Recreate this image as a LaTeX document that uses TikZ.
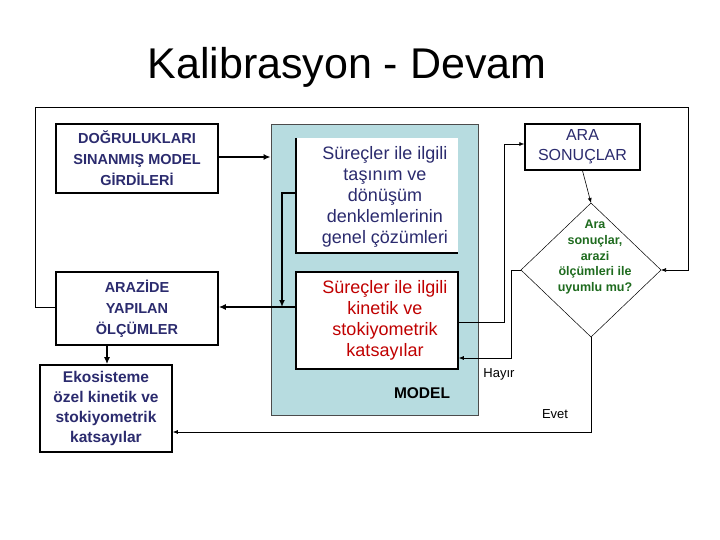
\documentclass[tikz,border=0pt]{standalone}
\usepackage{fontspec}
\setmainfont{Liberation Sans}
\usetikzlibrary{arrows.meta}
\definecolor{navy}{HTML}{2B2B6E}
\definecolor{panel}{HTML}{B7DCE0}
\definecolor{redt}{HTML}{C00000}
\definecolor{greent}{HTML}{1E6B1E}
\begin{document}
\begin{tikzpicture}[x=1pt,y=-1pt,
  box/.style={draw,line width=1.6pt,fill=white,align=center,inner sep=0pt},
  thin/.style={line width=0.6pt,-{Latex[length=5pt,width=4pt]}},
  thick/.style={line width=2.2pt,-{Latex[length=7pt,width=6pt]}},
  lab/.style={font=\fontsize{14.5}{21}\selectfont\bfseries,text=navy,align=center}]
\useasboundingbox (0,0) rectangle (720,540);
\node (title) at (347,67) {\fontsize{43}{48}\selectfont Kalibrasyon - Devam};
\node[box,minimum width=162pt,minimum height=69pt] (A) at (137,158.5) {};
\node[lab] at (A) {DOĞRULUKLARI\\SINANMIŞ MODEL\\GİRDİLERİ};
\node[box,minimum width=162pt,minimum height=73pt] (B) at (137,308.5) {};
\node[lab] at (B) {ARAZİDE\\YAPILAN\\ÖLÇÜMLER};
\node[box,minimum width=132pt,minimum height=87pt] (C) at (106,408.5) {};
\node[lab,font=\fontsize{15.5}{20}\selectfont\bfseries] at (C) {Ekosisteme\\özel kinetik ve\\stokiyometrik\\katsayılar};
\node[draw=black!70,line width=0.8pt,fill=panel,minimum width=207pt,minimum height=291pt,inner sep=0pt] (P) at (374.5,269.5) {};
\node[fill=white,minimum width=162pt,minimum height=115pt,inner sep=0pt] (M1) at (377,195.5) {};
\draw[line width=2pt] (M1.north west) -- (M1.south west) -- (M1.south east);
\node[align=center,text=navy,font=\fontsize{18}{21}\selectfont] at (385,197) {Süreçler ile ilgili\\taşınım ve\\dönüşüm\\denklemlerinin\\genel çözümleri};
\node[box,minimum width=162pt,minimum height=97pt] (M2) at (377,320.5) {};
\node[align=center,text=redt,font=\fontsize{18}{21}\selectfont] at (385,320) {Süreçler ile ilgili\\kinetik ve\\stokiyometrik\\katsayılar};
\node[font=\fontsize{15.5}{18}\selectfont\bfseries] (ML) at (422,393) {MODEL};
\node[box,line width=1.4pt,minimum width=115pt,minimum height=46pt] (R) at (582.5,147) {};
\node[align=center,text=navy,font=\fontsize{16}{20}\selectfont] at (R) {ARA\\SONUÇLAR};
\draw[line width=0.5pt,fill=white] (591,203) coordinate (Dt) -- (661,270) coordinate (Dr) -- (591,337) coordinate (Db) -- (521,270) coordinate (Dl) -- cycle;
\node (D) at (591,270) {};
\node[align=center,text=greent,font=\fontsize{12.5}{15.7}\selectfont\bfseries] at (595,257) {Ara\\sonuçlar,\\arazi\\ölçümleri ile\\uyumlu mu?};
\node[font=\fontsize{13}{15}\selectfont] (H) at (499,374) {Hayır};
\node[font=\fontsize{13}{15}\selectfont] (E) at (555,414) {Evet};
% connectors
\draw[thick] (A.east |- 0,157) -- (P.west |- 0,157);
\draw[thick] (M1.west |- 0,193) -- (282,193) -- (282,307);
\draw[thick] (M2.west |- 0,307) -- (B.east |- 0,307);
\draw[thick] (B.south -| 107,0) -- (C.north -| 107,0);
\draw[thin] (M2.east |- 0,322) -- (504,322) -- (504,144) -- (R.west |- 0,144);
\draw[thin] (R.south) -- (Dt);
\draw[thin] (Dl) -- (511,270) -- (511,358) -- (M2.east |- 0,358);
\draw[thin] (Db) -- (591,432) -- (C.east |- 0,432);
\draw[thin] (B.west |- 0,307) -- (35,307) -- (35,107) -- (688,107) -- (688,270) -- (Dr);
\end{tikzpicture}
\end{document}
